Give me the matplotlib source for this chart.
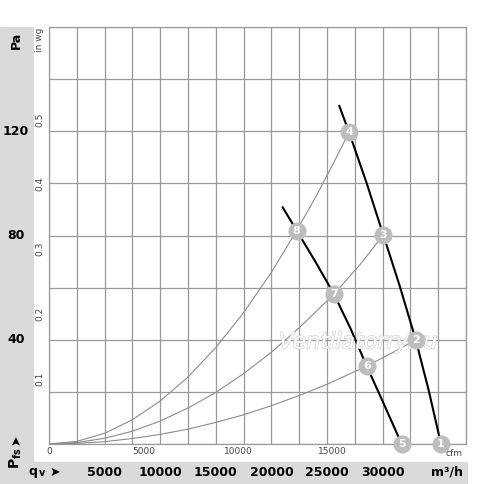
import numpy as np
import matplotlib
matplotlib.use("Agg")
import matplotlib.pyplot as plt
from matplotlib.patches import Rectangle
from matplotlib.transforms import blended_transform_factory
import matplotlib.patheffects as pe

# system curves (m3/h, Pa)
sysA_q = [0, 2500, 5000, 7500, 10000, 12500, 15000, 17500, 20000, 22275, 24000, 25500, 26980]
sysA_p = [0, 1.0, 4.1, 9.3, 16.5, 25.7, 37.0, 50.4, 65.9, 81.9, 94.9, 107.1, 119.6]
sysB_q = [0, 2500, 5000, 7500, 10000, 12500, 15000, 17500, 20000, 22500, 25630, 28000, 30065]
sysB_p = [0, 0.55, 2.2, 4.9, 8.8, 13.8, 19.8, 27.0, 35.2, 44.6, 57.5, 69.0, 80.2]
sysC_q = [0, 2500, 5000, 7500, 10000, 12500, 15000, 17500, 20000, 22500, 25000, 28570, 31000, 32980]
sysC_p = [0, 0.23, 0.9, 2.1, 3.7, 5.7, 8.3, 11.2, 14.7, 18.6, 22.9, 29.9, 35.3, 40.0]

# fan curves
fan1_q = [26110, 26980, 28550, 30065, 31550, 32980, 34150, 35250]
fan1_p = [129.7, 119.6, 100.3, 80.2, 60.5, 40.0, 20.5, 0]
fan2_q = [21015, 22275, 23950, 25630, 27150, 28570, 30150, 31715]
fan2_p = [90.8, 81.9, 70.0, 57.5, 44.0, 29.9, 15.0, 0]

# numbered operating points
pt_num = ['1', '2', '3', '4', '5', '6', '7', '8']
pt_q = [35250, 32980, 30065, 26980, 31715, 28570, 25630, 22275]
pt_p = [0, 40.0, 80.2, 119.6, 0, 29.9, 57.5, 81.9]

qv_ticks = [5000, 10000, 15000, 20000, 25000, 30000]
pa_ticks = [40, 80, 120]
cfm_ticks = [0, 5000, 10000, 15000]
inwg_ticks = [0.1, 0.2, 0.3, 0.4, 0.5]

W, H = 500, 484
fig = plt.figure(figsize=(5.0, 4.84), dpi=100)

def fx(px):
    return px / W

def fy(py):
    return 1 - py / H

band = '#dadada'
fig.patches.append(Rectangle((0, 0), fx(33), fy(27), transform=fig.transFigure,
                             color=band, zorder=-5))
fig.patches.append(Rectangle((0, 0), fx(467), fy(462), transform=fig.transFigure,
                             color=band, zorder=-5))

ax = fig.add_axes([fx(49), fy(444), (466 - 49) / W, 417 / H])
ax.set_xlim(0, 37500)
ax.set_ylim(0, 160)
ax.set_xticks(np.arange(0, 37501, 2500))
ax.set_yticks(np.arange(0, 161, 20))
ax.tick_params(length=0, labelbottom=False, labelleft=False)
ax.grid(True, color='#9a9a9a', lw=0.9)
for s in ax.spines.values():
    s.set_color('#9a9a9a')
    s.set_linewidth(0.9)
ax.set_axisbelow(True)

sys_col = '#8c8c8c'
ax.plot(sysA_q, sysA_p, color=sys_col, lw=0.8, zorder=2)
ax.plot(sysB_q, sysB_p, color=sys_col, lw=0.8, zorder=2)
ax.plot(sysC_q, sysC_p, color=sys_col, lw=0.8, zorder=2)
ax.plot(fan1_q, fan1_p, color='black', lw=1.5, zorder=3)
ax.plot(fan2_q, fan2_p, color='black', lw=1.5, zorder=3)

ax.plot(pt_q, pt_p, 'o', ms=13, color='#bdbdbd', mec='none', zorder=4, clip_on=False)
for n, q, p in zip(pt_num, pt_q, pt_p):
    ax.text(q, p, n, color='white', fontsize=8, fontweight='bold',
            ha='center', va='center', zorder=5)

# watermark
ax.text(27800, 39, 'Ventilatorry.ru', fontsize=16, style='italic', color='white',
        ha='center', va='center', zorder=3.5,
        path_effects=[pe.withStroke(linewidth=1.0, foreground='#d0d0d0')])

# cfm scale
tx = blended_transform_factory(ax.transData, fig.transFigure)
for c in cfm_ticks:
    ax.text(c * 1.699, fy(452), str(c), transform=tx, fontsize=6.5,
            color='#444444', ha='center', va='center')
fig.text(fx(454), fy(453), 'cfm', fontsize=6.5, color='#444444', ha='center', va='center')

# in wg scale
ty = blended_transform_factory(fig.transFigure, ax.transData)
for w in inwg_ticks:
    ax.text(fx(40), w * 249.1, str(w), transform=ty, fontsize=6.5, rotation=90,
            color='#444444', ha='center', va='center')
fig.text(fx(40), fy(40), 'in wg', fontsize=6.5, rotation=90, color='#444444',
         ha='center', va='center')

# main scales
for p in pa_ticks:
    ax.text(fx(16), p, str(p), transform=ty, fontsize=9, fontweight='bold',
            ha='center', va='center')
fig.text(fx(16), fy(40), 'Pa', fontsize=9, fontweight='bold', rotation=90,
         ha='center', va='center')
for q in qv_ticks:
    ax.text(q, fy(472), str(q), transform=tx, fontsize=9, fontweight='bold',
            ha='center', va='center')
fig.text(fx(463), fy(472), 'm³/h', fontsize=9, fontweight='bold', ha='right', va='center')
fig.text(fx(33), fy(471), 'q', fontsize=9, fontweight='bold', ha='center', va='center')
fig.text(fx(42), fy(473), 'v', fontsize=7, fontweight='bold', ha='center', va='center')
fig.text(fx(55), fy(472), '➤', fontsize=9, ha='center', va='center')
fig.text(fx(16), fy(458), r'$\mathbf{P}_{\mathbf{fs}}$', fontsize=10, rotation=90,
         ha='center', va='center')
fig.text(fx(16), fy(440), '➤', fontsize=9, rotation=90, ha='center', va='center')

fig.savefig('out.png', dpi=100)
